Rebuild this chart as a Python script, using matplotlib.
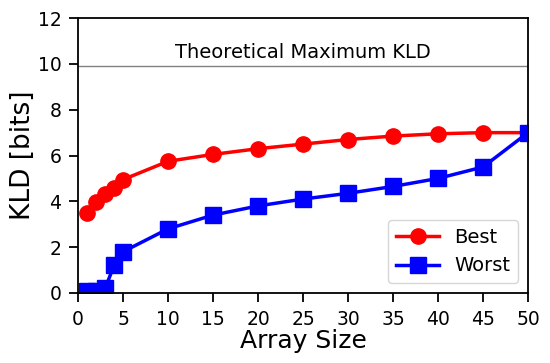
import matplotlib
matplotlib.use('Agg')
import matplotlib.pyplot as plt

# array sizes and KLD values
best_x = [1, 2, 3, 4, 5, 10, 15, 20, 25, 30, 35, 40, 45, 50]
best_y = [3.5, 3.95, 4.3, 4.6, 4.95, 5.75, 6.05, 6.3, 6.5, 6.7, 6.85, 6.95, 7.0, 7.0]
worst_x = [1, 2, 3, 4, 5, 10, 15, 20, 25, 30, 35, 40, 45, 50]
worst_y = [0.1, 0.1, 0.2, 1.2, 1.8, 2.8, 3.4, 3.8, 4.1, 4.35, 4.65, 5.0, 5.5, 7.0]
max_kld = 9.93

fig = plt.figure(figsize=(5.5, 3.63), dpi=100)
ax = fig.add_axes([0.142, 0.193, 0.818, 0.757])

ax.axhline(max_kld, color='gray', lw=1)
ax.text(25, max_kld + 0.15, 'Theoretical Maximum KLD', ha='center', va='bottom', fontsize=14)

ax.plot(best_x, best_y, '-o', color='red', lw=2.5, ms=11, label='Best')
ax.plot(worst_x, worst_y, '-s', color='blue', lw=2.5, ms=11, label='Worst')

ax.set_xlim(0, 50)
ax.set_ylim(0, 12)
ax.set_xticks(range(0, 51, 5))
ax.set_yticks(range(0, 13, 2))
ax.tick_params(labelsize=13.5, width=1.3, length=6.5, pad=5.5)
for s in ax.spines.values():
    s.set_linewidth(1.3)
ax.set_xlabel('Array Size', fontsize=18, labelpad=0)
ax.set_ylabel('KLD [bits]', fontsize=19, labelpad=1)
ax.legend(loc='lower right', fontsize=14, handlelength=2.2)

fig.savefig('out.png', dpi=100)
